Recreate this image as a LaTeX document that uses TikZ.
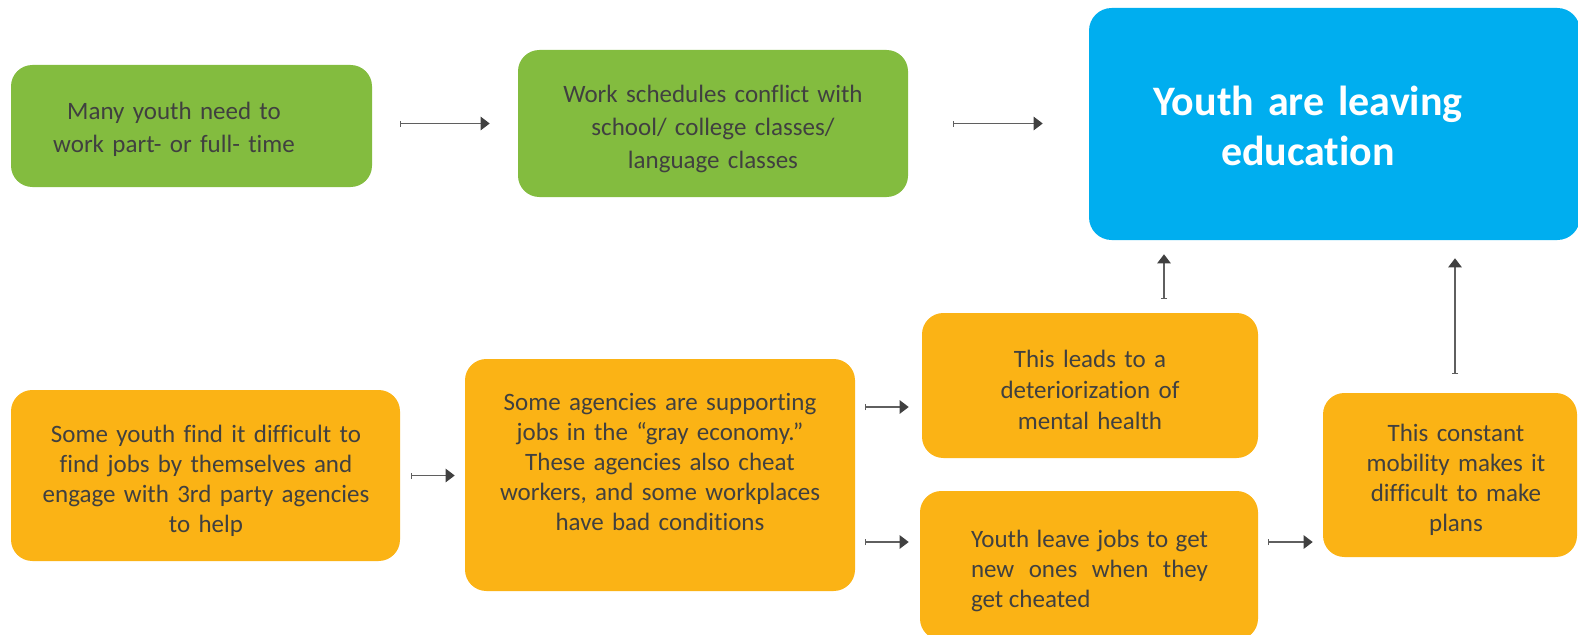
\documentclass[tikz,border=0pt]{standalone}
\usepackage{fontspec}
\setmainfont{Carlito}[Ligatures={NoCommon,NoContextual,NoRequired}, RawFeature={-liga;-clig;-calt;-dlig}]
\usetikzlibrary{arrows.meta}
\definecolor{boxgreen}{HTML}{83BC3F}
\definecolor{boxorange}{HTML}{FBB315}
\definecolor{boxblue}{HTML}{00AEEF}
\definecolor{txtgray}{HTML}{404040}
\definecolor{arrgray}{HTML}{5F5F5F}
\definecolor{headgray}{HTML}{404040}
\begin{document}
\begin{tikzpicture}[x=0.75pt,y=-0.75pt,
  box/.style={rectangle, rounded corners=16pt, draw=none, inner sep=0pt},
  gbox/.style={box, fill=boxgreen},
  obox/.style={box, fill=boxorange},
  bbox/.style={box, fill=boxblue, rounded corners=17pt},
  txt/.style={text=txtgray, font=\fontsize{18.75pt}{22.5pt}\selectfont, align=center, anchor=base, inner sep=0pt, text width=330pt},
  arr/.style={draw=arrgray, line width=1pt, {Bar[width=4.5pt,line width=0.75pt]}-{Triangle[length=6.75pt,width=10pt,color=headgray]}},
]
\useasboundingbox (0,0) rectangle (1578,635);
\clip (0,0) rectangle (1578,635);

% boxes
\node[gbox, minimum width=270.75pt, minimum height=91.5pt] (b1) at (191.5,126) {};
\node[gbox, minimum width=292.5pt, minimum height=110.25pt] (b2) at (713,123.5) {};
\node[bbox, minimum width=368.25pt, minimum height=174pt] (bb) at (1334.5,124) {};
\node[obox, minimum width=291.75pt, minimum height=128.25pt] (b4) at (205.5,475.5) {};
\node[obox, minimum width=292.5pt, minimum height=174pt] (b5) at (660,475) {};
\node[obox, minimum width=252pt, minimum height=108.75pt] (b6) at (1090,385.5) {};
\node[obox, minimum width=253.5pt, minimum height=111.75pt] (b7) at (1089,565.5) {};
\node[obox, minimum width=190.5pt, minimum height=123pt] (b8) at (1450,475) {};

% texts
\node[txt, font=\fontsize{18.75pt}{24.75pt}\selectfont] (t1) at (174,119) {Many youth need to\\work part- or full- time};
\node[txt, font=\fontsize{18.75pt}{24.75pt}\selectfont] (t2) at (713,103) {Work schedules conflict with\\school/ college classes/\\language classes};
\node[txt, text=white, font=\bfseries\fontsize{31.5pt}{37.5pt}\selectfont] (tb) at (1308,115) {Youth are leaving\\education};
\node[txt] (t4) at (206,442) {Some youth find it difficult to\\find jobs by themselves and\\engage with 3rd party agencies\\to help};
\node[txt] (t5) at (660,410) {Some agencies are supporting\\jobs in the “gray economy.”\\These agencies also cheat\\workers, and some workplaces\\have bad conditions};
\node[txt, font=\fontsize{18.75pt}{23.25pt}\selectfont] (t6) at (1090,367) {This leads to a\\deteriorization of\\mental health};
\node[txt, text width=177.75pt, align=justify] (t7) at (1089.5,547) {Youth leave jobs to get\linebreak new ones when they\linebreak get cheated};
\node[txt] (t8) at (1456,441) {This constant\\mobility makes it\\difficult to make\\plans};

% connectors
\draw[arr, shorten <=21pt, shorten >=21pt] (b1.east |- b2.west) -- (b2.west);
\draw[arr, shorten <=33.75pt, shorten >=34.5pt] (b2.east) -- (b2.east -| bb.west);
\draw[arr, shorten <=8.25pt, shorten >=7.5pt] (b4.east) -- (b4.east -| b5.west);
\draw[arr, shorten <=7.5pt, shorten >=9.75pt] ([yshift=51pt]b5.east) -- ([yshift=51pt]b5.east -| b6.west);
\draw[arr, shorten <=7.5pt, shorten >=8.25pt] ([yshift=-50.25pt]b5.east) -- ([yshift=-50.25pt]b5.east -| b7.west);
\draw[arr, shorten <=7.5pt, shorten >=7.5pt] ([yshift=17.6pt]b7.east) -- ([yshift=17.6pt]b7.east -| b8.west);
\draw[arr, shorten <=10.5pt, shorten >=10.5pt] ([xshift=55.5pt]b6.north) -- ([xshift=55.5pt]b6.north |- bb.south);
\draw[arr, shorten <=14.25pt, shorten >=13.5pt] ([xshift=3.75pt]b8.north) -- ([xshift=3.75pt]b8.north |- bb.south);
\end{tikzpicture}
\end{document}
